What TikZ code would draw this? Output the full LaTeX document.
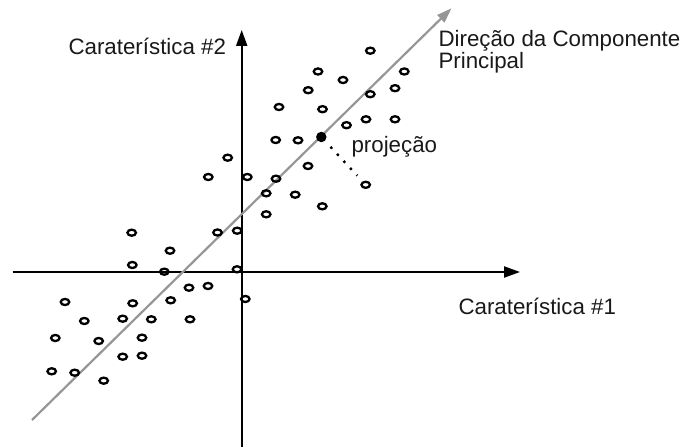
\documentclass[tikz,border=0pt]{standalone}
\usepackage{fontspec}
\setmainfont{Liberation Sans}
\usetikzlibrary{arrows.meta,shapes.geometric}
\definecolor{pcgray}{RGB}{150,150,150}
\definecolor{txt}{RGB}{25,25,25}
\tikzset{
  pt/.style={draw=black, shape=ellipse, line width=2.3bp, inner sep=0pt, outer sep=0pt, minimum width=8.5bp, minimum height=6.1bp},
  filldot/.style={fill=black, shape=circle, inner sep=0pt, minimum size=10.5bp},
  axis/.style={line width=2.1bp, -{Triangle[length=16bp,width=11bp]}},
  pcline/.style={draw=pcgray, line width=2.2bp, -{Triangle[length=15bp,width=10bp]}},
  lbl/.style={inner sep=0pt, outer sep=0pt, text=txt, font=\fontsize{22.4}{22.3}\selectfont},
}
\begin{document}
\begin{tikzpicture}[x=1bp,y=-1bp]
\useasboundingbox (0,0) rectangle (685,447);
% axes
\coordinate (xs) at (12.7,272);
\coordinate (xe) at (520,272);
\coordinate (ys) at (241.7,447);
\coordinate (ye) at (241.7,30);
\draw[axis] (xs) -- (xe);
\draw[axis] (ys) -- (ye);
% principal component direction
\coordinate (gs) at (32,420);
\coordinate (ge) at (451.5,8.3);
\draw[pcline] (gs) -- (ge);
% data points
\foreach \n/\x/\y in {
 1/370.3/50.7, 2/318/71.5, 3/404.3/71.5, 4/343/80, 5/308.2/90.2,
 6/370.3/94.2, 7/395/88.2, 8/279/107, 9/322.5/109.2, 10/346.5/125.2,
 11/366/119.3, 12/395/119.3, 13/275.7/140, 14/298/140.3, 15/227.7/157.7,
 16/308/166, 17/208.3/177, 18/247.3/177, 19/276/178.7, 20/365.7/184.8,
 21/266.2/193.3, 22/295.2/194.7, 23/322.3/206.3, 24/266.2/214.3, 25/217.5/232.5,
 26/237.2/230.7, 27/131.7/232.7, 28/170/250.7, 29/132.3/265, 30/164.3/271.7,
 31/237/269.3, 32/189/287.7, 33/208/286, 34/245.3/299, 35/65/302,
 36/132.7/303.3, 37/170.7/300.3, 38/84.3/321, 39/122.7/318.7, 40/151.3/319.3,
 41/190/319.3, 42/55.3/338, 43/98.7/341, 44/142/337.7, 45/122.7/356.7,
 46/142/355.7, 47/51.7/371.3, 48/74.7/372.7, 49/103.7/380.7}
 { \node[pt] (p\n) at (\x,\y) {}; }
% projection
\node[filldot] (fd) at (321.3,137) {};
\draw[line width=2.4bp, dash pattern=on 2.4bp off 7.2bp, shorten <=13.5bp, shorten >=12.5bp] (fd.center) -- (p20.center);
% labels
\node[lbl, anchor=base west] (l2) at (68.5,55) {Caraterística \#2};
\node[lbl, anchor=base west] (l1) at (458.5,315) {Caraterística \#1};
\node[lbl, anchor=base west] (lp) at (351.5,152.5) {projeção};
\node[lbl, anchor=base west, align=left] (lc) at (438.5,68.3) {Direção da Componente\\Principal};
\end{tikzpicture}
\end{document}
